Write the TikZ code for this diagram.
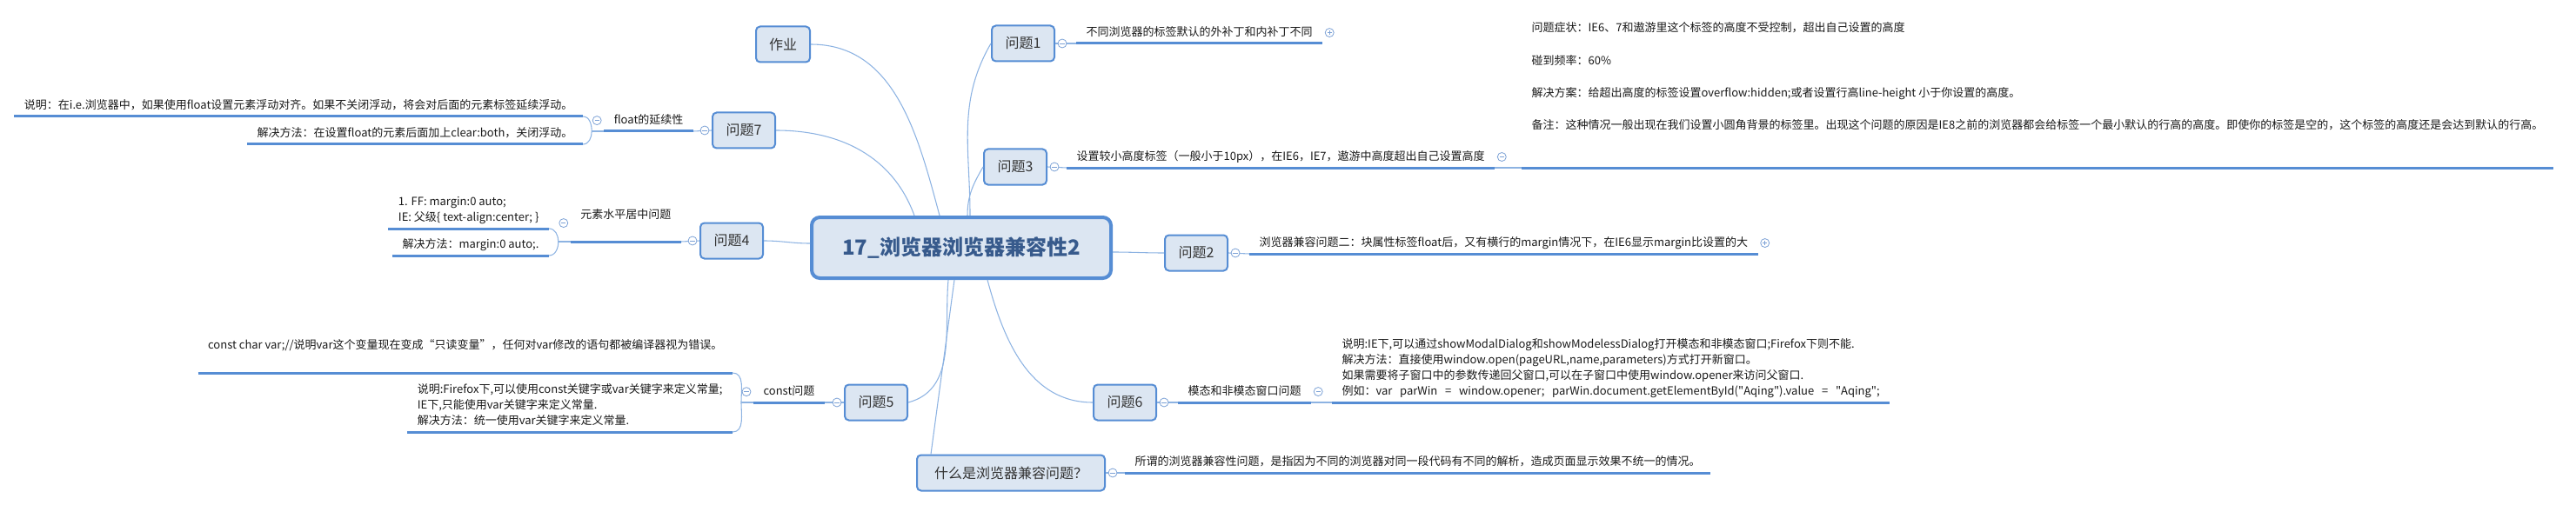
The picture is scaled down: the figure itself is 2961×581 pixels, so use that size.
\documentclass[tikz,border=0pt]{standalone}
\usepackage{fontspec}
\setmainfont{Noto Sans CJK SC}
\setmonofont{Noto Sans CJK SC}
\usetikzlibrary{calc}

\definecolor{lineblue}{RGB}{86,141,212}
\definecolor{topicfill}{RGB}{220,230,242}
\definecolor{linkblue}{RGB}{141,179,226}
\definecolor{foldblue}{RGB}{125,162,214}
\definecolor{roottext}{RGB}{55,90,140}

\newcommand{\straightquote}{\texttt{"}}

\begin{document}
\begin{tikzpicture}[x=0.75pt, y=0.75pt,
	root/.style={draw=lineblue, fill=topicfill, line width=3pt, rounded corners=7pt,
		minimum width=258pt, minimum height=52.5pt, text=roottext,
		font=\fontsize{18}{21}\selectfont\bfseries},
	topic/.style={draw=lineblue, fill=topicfill, line width=1.5pt, rounded corners=3.5pt,
		minimum width=54pt, minimum height=30.75pt, inner xsep=11.25pt, text=black!80,
		font=\fontsize{12}{14}\selectfont},
	leaf/.style={inner xsep=8.5pt, inner ysep=4pt, text depth=2pt, align=left,
		text=black!90, font=\fontsize{9.75}{13.5}\selectfont},
	uline/.style={draw=lineblue, line width=2.25pt},
	link/.style={draw=linkblue, line width=0.8pt},
	fold/.style={circle, draw=foldblue, fill=white, line width=0.6pt,
		minimum size=7.5pt, inner sep=0pt,
		path picture={\draw[foldblue, line width=0.6pt]
			([xshift=-2pt]path picture bounding box.center) -- ([xshift=2pt]path picture bounding box.center);}},
	foldplus/.style={fold,
		path picture={\draw[foldblue, line width=0.6pt]
			([xshift=-2pt]path picture bounding box.center) -- ([xshift=2pt]path picture bounding box.center)
			([yshift=-2pt]path picture bounding box.center) -- ([yshift=2pt]path picture bounding box.center);}}
]
	\fontsize{9.75}{13.5}\selectfont
	\useasboundingbox (0,0) rectangle (2961,-581);

	%topics
	\node[root] (root) at (1105,-285) {17\_浏览器浏览器兼容性2};
	\node[topic, minimum width=46.5pt] (zy) at (900,-51) {作业};
	\node[topic] (q1) at (1176,-50) {问题1};
	\node[topic] (q2) at (1375,-291) {问题2};
	\node[topic] (q3) at (1167,-192) {问题3};
	\node[topic] (q4) at (841,-277) {问题4};
	\node[topic] (q5) at (1007,-463) {问题5};
	\node[topic] (q6) at (1293,-463) {问题6};
	\node[topic] (q7) at (855,-150) {问题7};
	\node[topic, minimum width=162pt] (qw) at (1162,-544) {什么是浏览器兼容问题？};

	%leaves, right side
	\node[leaf, anchor=south west] (l1) at (1237,-50) {不同浏览器的标签默认的外补丁和内补丁不同};
	\node[leaf, anchor=south west] (l2) at (1436,-292) {浏览器兼容问题二：块属性标签float后，又有横行的margin情况下，在IE6显示margin比设置的大};
	\node[leaf, anchor=south west] (l3) at (1226,-193) {设置较小高度标签（一般小于10px），在IE6，IE7，遨游中高度超出自己设置高度};
	\node[leaf, anchor=south west, text depth=29pt] (l3b) at (1749,-193) {问题症状：IE6、7和遨游里这个标签的高度不受控制，超出自己设置的高度\\[14.5pt]
		碰到频率：60\%\\[14.5pt]
		解决方案：给超出高度的标签设置overflow:hidden;或者设置行高line-height 小于你设置的高度。\\[14.5pt]
		备注：这种情况一般出现在我们设置小圆角背景的标签里。出现这个问题的原因是IE8之前的浏览器都会给标签一个最小默认的行高的高度。即使你的标签是空的，这个标签的高度还是会达到默认的行高。};
	\node[leaf, anchor=south west] (m6) at (1354,-463) {模态和非模态窗口问题};
	\node[leaf, anchor=south west] (l6) at (1531,-463) {说明:IE下,可以通过showModalDialog和showModelessDialog打开模态和非模态窗口;Firefox下则不能.\\
		解决方法：直接使用window.open(pageURL,name,parameters)方式打开新窗口。\\
		如果需要将子窗口中的参数传递回父窗口,可以在子窗口中使用window.opener来访问父窗口.\\
		例如：var\ \ \ parWin\ \ \ =\ \ \ window.opener;\ \ \ parWin.document.getElementById(\straightquote Aqing\straightquote).value\ \ \ =\ \ \ \straightquote Aqing\straightquote;};
	\node[leaf, anchor=south west] (lw) at (1293,-544) {所谓的浏览器兼容性问题，是指因为不同的浏览器对同一段代码有不同的解析，造成页面显示效果不统一的情况。};

	%leaves, left side
	\node[leaf, anchor=south east] (f7) at (797,-151) {float的延续性};
	\node[leaf, anchor=south east] (c71) at (670,-134) {说明：在i.e.浏览器中，如果使用float设置元素浮动对齐。如果不关闭浮动，将会对后面的元素标签延续浮动。};
	\node[leaf, anchor=south east] (c72) at (670,-166) {解决方法：在设置float的元素后面加上clear:both，关闭浮动。};
	\node[leaf, anchor=south east, text depth=15.5pt] (f4) at (783,-278) {元素水平居中问题};
	\node[leaf, anchor=south east] (c41) at (631,-263) {1. FF: margin:0 auto;\\IE: 父级\{ text-align:center; \}};
	\node[leaf, anchor=south east] (c42) at (631,-294) {解决方法：margin:0 auto;.};
	\node[leaf, anchor=south east] (f5) at (948,-463) {const问题};
	\node[leaf, anchor=south east, text depth=16.25pt] (c51) at (842,-429) {const char var;//说明var这个变量现在变成“只读变量”，任何对var修改的语句都被编译器视为错误。};
	\node[leaf, anchor=south east] (c52) at (842,-497) {说明:Firefox下,可以使用const关键字或var关键字来定义常量;\\
		IE下,只能使用var关键字来定义常量.\\
		解决方法：统一使用var关键字来定义常量.};

	%links from the root
	\draw[link] ($(root.north)+(-25,0)$) to[out=105,in=0] (zy.east);
	\draw[link] ($(root.north)+(-54,0)$) to[out=110,in=0] (q7.east);
	\draw[link] ($(root.north)+(10,0)$) to[out=90,in=-120] (q1.west);
	\draw[link] ($(root.north)+(7,0)$) to[out=90,in=-120] (q3.west);
	\draw[link] ($(root.west)+(0,5)$) to[out=180,in=0] (q4.east);
	\draw[link] ($(root.east)+(0,-5)$) to[out=0,in=180] (q2.west);
	\draw[link] ($(root.south)+(-15,0)$) to[out=-95,in=15] (q5.east);
	\draw[link] ($(root.south)+(-8,0)$) -- ($(qw.north west)+(17,0)$);
	\draw[link] ($(root.south)+(30,0)$) to[out=-75,in=180] (q6.west);

	%links to the leaves
	\draw[link] (q1.east) -- (l1.south west);
	\draw[link] (q2.east) -- (l2.south west);
	\draw[link] (q3.east) -- (l3.south west);
	\draw[link] (l3.south east) -- (l3b.south west);
	\draw[link] (q6.east) -- (m6.south west);
	\draw[link] (m6.south east) -- (l6.south west);
	\draw[link] (qw.east) -- (lw.south west);
	\draw[link] (q7.west) -- (f7.south east);
	\draw[link] (q4.west) -- (f4.south east);
	\draw[link] (q5.west) -- (f5.south east);
	\foreach \f/\a/\b in {f7/c71/c72, f4/c41/c42, f5/c51/c52}{
		\draw[link] (\f.south west) -- ++(-14,0) coordinate (\f-m);
		\draw[link] (\a.south east) to[out=0,in=90] (\f-m) to[out=-90,in=0] (\b.south east);
	}

	%underlines
	\foreach \n in {l1,l2,l3,l3b,m6,l6,lw,f7,c71,c72,f4,c41,c42,f5,c51,c52}
		\draw[uline] (\n.south west) -- (\n.south east);

	%folds
	\foreach \n in {q1,q2,q3,q6,qw,l3,m6}
		\node[fold] (\n-fr) at ($(\n.east)+(8,0)$) {};
	\foreach \n in {q4,q5,q7,f4,f5,f7}
		\node[fold] (\n-fl) at ($(\n.west)+(-8,0)$) {};
	\foreach \n in {l1,l2}
		\node[foldplus] (\n-fr) at ($(\n.east)+(8,0)$) {};

\end{tikzpicture}
\end{document}
